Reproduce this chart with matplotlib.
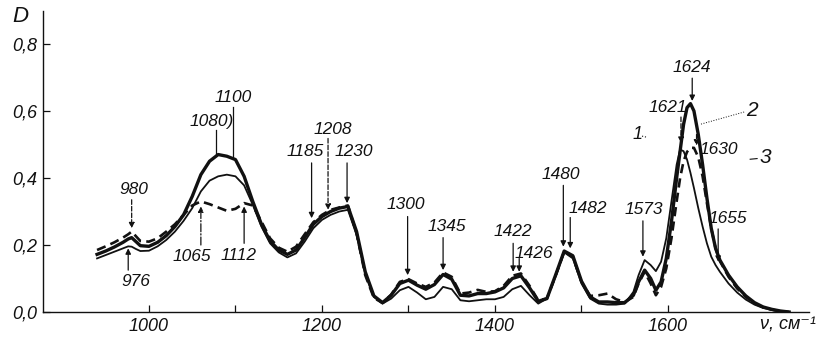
import matplotlib
matplotlib.use("Agg")
import matplotlib.pyplot as plt

# --------------------------------------------------------------------------
# data (D vs wavenumber, cm-1)
# --------------------------------------------------------------------------
wavenumber = [
    940, 950, 960, 970, 976, 980, 985, 990, 1000, 1010,
    1020, 1030, 1040, 1050, 1060, 1070, 1080, 1090, 1100, 1110,
    1120, 1130, 1140, 1150, 1160, 1170, 1180, 1190, 1200, 1210,
    1220, 1230, 1240, 1250, 1260, 1270, 1280, 1290, 1300, 1310,
    1320, 1330, 1340, 1350, 1360, 1370, 1380, 1390, 1400, 1410,
    1420, 1430, 1440, 1450, 1460, 1470, 1480, 1490, 1500, 1510,
    1520, 1530, 1540, 1550, 1560, 1566, 1573, 1580, 1586, 1592,
    1598, 1604, 1610, 1614, 1618, 1622, 1626, 1630, 1635, 1640,
    1645, 1650, 1655, 1660, 1670, 1680, 1690, 1700, 1710, 1720,
    1730, 1740,
]

# curve 1 - thin solid
d_curve1 = [
    0.160, 0.170, 0.180, 0.190, 0.196, 0.195, 0.188, 0.182, 0.183, 0.196,
    0.215, 0.240, 0.272, 0.310, 0.360, 0.392, 0.405, 0.410, 0.405, 0.378,
    0.320, 0.255, 0.205, 0.178, 0.163, 0.175, 0.210, 0.250, 0.275, 0.290,
    0.300, 0.305, 0.230, 0.115, 0.045, 0.025, 0.040, 0.065, 0.075, 0.058,
    0.038, 0.045, 0.075, 0.068, 0.035, 0.032, 0.035, 0.038, 0.038, 0.045,
    0.068, 0.078, 0.050, 0.025, 0.040, 0.105, 0.178, 0.160, 0.085, 0.040,
    0.025, 0.022, 0.022, 0.025, 0.060, 0.110, 0.155, 0.140, 0.122, 0.150,
    0.220, 0.330, 0.440, 0.485, 0.480, 0.455, 0.415, 0.370, 0.310, 0.255,
    0.205, 0.165, 0.140, 0.120, 0.085, 0.058, 0.037, 0.022, 0.012, 0.006,
    0.002, 0.000,
]

# curve 2 - thick solid
d_curve2 = [
    0.172, 0.182, 0.194, 0.208, 0.218, 0.222, 0.210, 0.198, 0.196, 0.208,
    0.228, 0.255, 0.290, 0.345, 0.410, 0.450, 0.470, 0.465, 0.455, 0.405,
    0.330, 0.262, 0.212, 0.185, 0.172, 0.185, 0.222, 0.262, 0.285, 0.300,
    0.310, 0.315, 0.240, 0.120, 0.048, 0.028, 0.050, 0.085, 0.095, 0.080,
    0.068, 0.082, 0.112, 0.098, 0.050, 0.048, 0.055, 0.055, 0.060, 0.072,
    0.100, 0.108, 0.072, 0.032, 0.040, 0.110, 0.182, 0.168, 0.092, 0.045,
    0.030, 0.030, 0.028, 0.028, 0.050, 0.090, 0.125, 0.100, 0.065, 0.090,
    0.160, 0.270, 0.400, 0.480, 0.560, 0.610, 0.622, 0.600, 0.530, 0.440,
    0.340, 0.250, 0.190, 0.155, 0.110, 0.075, 0.048, 0.028, 0.015, 0.008,
    0.003, 0.000,
]

# curve 3 - dashed
d_curve3 = [
    0.185, 0.196, 0.208, 0.222, 0.232, 0.240, 0.226, 0.212, 0.210, 0.220,
    0.240, 0.262, 0.290, 0.318, 0.330, 0.322, 0.312, 0.302, 0.308, 0.325,
    0.318, 0.270, 0.220, 0.192, 0.180, 0.195, 0.232, 0.268, 0.290, 0.305,
    0.312, 0.318, 0.235, 0.110, 0.042, 0.027, 0.052, 0.090, 0.098, 0.085,
    0.075, 0.088, 0.118, 0.105, 0.055, 0.058, 0.066, 0.060, 0.062, 0.078,
    0.108, 0.115, 0.078, 0.035, 0.040, 0.108, 0.180, 0.165, 0.090, 0.048,
    0.050, 0.055, 0.038, 0.030, 0.045, 0.085, 0.120, 0.085, 0.050, 0.075,
    0.130, 0.220, 0.330, 0.400, 0.450, 0.478, 0.490, 0.490, 0.462, 0.405,
    0.325, 0.250, 0.190, 0.152, 0.105, 0.070, 0.045, 0.026, 0.014, 0.007,
    0.002, 0.000,
]

x_ticks = [1000, 1200, 1400, 1600]
x_minor = [1100, 1300, 1500]
y_ticks = [0.0, 0.2, 0.4, 0.6, 0.8]
y_labels = ["0,0", "0,2", "0,4", "0,6", "0,8"]

# peak marks: label, text x, text y, arrow x, arrow from, arrow to, line style, head
peak_marks = [
    ("980", 983, 0.365, 980, 0.335, 0.250, "--", True),
    ("976", 985, 0.090, 976, 0.125, 0.190, "-", True),
    ("1100", 1097, 0.640, 1097, 0.612, 0.462, "-", False),
    ("1080)", 1073, 0.570, 1078, 0.542, 0.472, "-", False),
    ("1065", 1049, 0.165, 1060, 0.200, 0.315, "-.", True),
    ("1112", 1104, 0.170, 1110, 0.205, 0.315, "-", True),
    ("1185", 1180, 0.480, 1188, 0.445, 0.280, "-", True),
    ("1208", 1212, 0.545, 1207, 0.518, 0.305, "--", True),
    ("1230", 1237, 0.480, 1229, 0.445, 0.325, "-", True),
    ("1300", 1297, 0.320, 1299, 0.285, 0.110, "-", True),
    ("1345", 1344, 0.255, 1340, 0.222, 0.125, "-", True),
    ("1422", 1421, 0.240, 1421, 0.205, 0.120, "-", True),
    ("1426", 1445, 0.175, 1428, 0.160, 0.120, "-", True),
    ("1480", 1476, 0.410, 1479, 0.378, 0.195, "-", True),
    ("1482", 1507, 0.310, 1487, 0.282, 0.190, "-", True),
    ("1573", 1572, 0.305, 1571, 0.272, 0.165, "-", True),
    ("1655", 1669, 0.280, 1658, 0.248, 0.150, "-", True),
    ("1624", 1628, 0.730, 1628, 0.698, 0.630, "-", True),
    ("1621", 1600, 0.610, 1615, 0.582, 0.505, "--", True),
    ("1630", 1659, 0.485, 1633, 0.530, 0.497, "--", True),
]

ink = "#111111"
font = dict(family=["Liberation Sans", "DejaVu Sans"], style="italic")

fig = plt.figure(figsize=(8.24, 3.42), dpi=100)
ax = fig.add_axes([43 / 824, 30 / 342, 766 / 824, 301.5 / 342])

ax.plot(wavenumber, d_curve1, color=ink, lw=1.3, solid_joinstyle="round")
ax.plot(wavenumber, d_curve2, color=ink, lw=2.4, solid_joinstyle="round")
ax.plot(wavenumber, d_curve3, color=ink, lw=1.9, ls=(0, (3.5, 2)))

for lab, tx, ty, ax_x, y0, y1, ls, head in peak_marks:
    ax.text(tx, ty, lab, ha="center", va="center", fontsize=12.5, color=ink,
            **font)
    if head:
        ax.annotate("", xy=(ax_x, y1), xytext=(ax_x, y0),
                    arrowprops=dict(arrowstyle="-|>", lw=0.9, color=ink,
                                    ls=ls, mutation_scale=8,
                                    shrinkA=0, shrinkB=0))
    else:
        ax.plot([ax_x, ax_x], [y0, y1], color=ink, lw=0.9, ls=ls)

# curve numbers with their leaders
ax.text(1697, 0.600, "2", ha="center", va="center", fontsize=15,
        color=ink, **font)
ax.plot([1688, 1637], [0.597, 0.560], color=ink, lw=0.7, ls=":")
ax.text(1712, 0.460, "3", ha="center", va="center", fontsize=15,
        color=ink, **font)
ax.plot([1703, 1695], [0.458, 0.456], color=ink, lw=0.8)
ax.text(1565, 0.530, "1", ha="center", va="center", fontsize=13,
        color=ink, **font)
ax.plot([1570, 1575], [0.525, 0.522], color=ink, lw=0.8, ls=":")

ax.set_xlim(877.5, 1763)
ax.set_ylim(0, 0.9)
ax.set_xticks(x_ticks)
ax.set_xticks(x_minor, minor=True)
ax.set_xticklabels([str(v) for v in x_ticks], fontsize=13, color=ink, **font)
ax.set_yticks(y_ticks)
ax.set_yticklabels(y_labels, fontsize=13, color=ink, **font)
ax.tick_params(axis="both", which="both", direction="in", length=5,
               width=0.9, color=ink)
ax.tick_params(axis="x", pad=4)
ax.tick_params(axis="y", pad=4)
for side in ("top", "right"):
    ax.spines[side].set_visible(False)
for side in ("left", "bottom"):
    ax.spines[side].set_color(ink)
    ax.spines[side].set_linewidth(1.0)

fig.text(20 / 824, 1 - 17 / 342, "D", ha="center", va="center",
         fontsize=16, color=ink, **font)
fig.text(788 / 824, 1 - 325 / 342, "ν, см⁻¹", ha="center", va="center",
         fontsize=13, color=ink, **font)

fig.savefig("out.png", dpi=100, facecolor="white")
